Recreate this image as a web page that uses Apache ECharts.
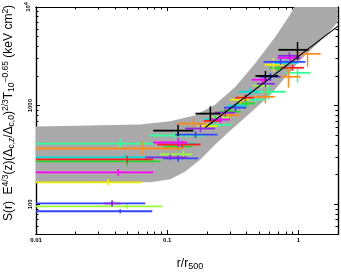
<!DOCTYPE html>
<html><head><meta charset="utf-8">
<script src="https://cdn.jsdelivr.net/npm/echarts@6/dist/echarts.min.js"></script>
<style>html,body{margin:0;padding:0;background:#fff}#c{width:341px;height:273px}</style>
</head><body><div id="c"></div>
<script>
// ---- axis ticks ----
const xMajor = [0.01, 0.1, 1];
const xMinor = [0.02,0.03,0.04,0.05,0.06,0.07,0.08,0.09,0.2,0.3,0.4,0.5,0.6,0.7,0.8,0.9,2];
const yMajor = [100, 1000, 10000];
const yMinor = [50,60,70,80,90,200,300,400,500,600,700,800,900,2000,3000,4000,5000,6000,7000,8000,9000];

// ---- scatter band (upper and lower envelopes) ----
const bandUpperX = [0.01, 0.0622, 0.1055, 0.164, 0.232, 0.331, 0.470, 0.667, 0.869, 0.93, 1.99];
const bandUpperY = [614, 643, 695, 800, 1030, 1550, 2700, 5000, 8500, 10000, 10000];
const bandLowerX = [0.01, 0.0741, 0.1055, 0.137, 0.179, 0.232, 0.303, 0.430, 0.611, 1.036, 1.607, 1.99];
const bandLowerY = [167, 167, 179, 215, 285, 404, 559, 849, 1291, 2917, 5093, 7050];

// ---- power-law fit ----
const fitX = [0.195, 2.0];
const fitY = [600, 6400];

// ---- profiles: [r, S, rLo, rHi, SLo, SHi] ----
const blackPts = [[0.121,559,0.0782,0.158,490,640],[0.213,830,0.164,0.254,700,985],[0.56,2000,0.47,0.70,1800,2250],[0.983,3681,0.704,1.19,2917,4426]];
const orangePts = [[0.0644,368,0.01,0.130,316,430],[0.158,658,0.119,0.20,580,745],[0.56,1230,0.46,0.66,1050,1450],[0.839,1963,0.667,1.036,1521,2421],[1.172,3350,0.983,1.472,2477,3855],[0.30,800,0.25,0.36,740,870]];
const springPts = [[0.0438,413,0.01,0.0782,370,460],[0.115,498,0.0741,0.195,450,550],[0.47,1150,0.40,0.56,1020,1300],[0.59,1384,0.45,0.80,1150,1650],[0.983,2153,0.796,1.235,1706,2477],[0.25,640,0.20,0.31,600,690]];
const greenPts = [[0.0495,272,0.01,0.0885,245,300],[0.121,386,0.093,0.155,350,425],[0.303,869,0.25,0.36,790,950],[0.40,1050,0.34,0.47,960,1150],[0.70,2400,0.60,0.82,2250,2560]];
const limePts = [[0.0495,95.5,0.01,0.0916,90,101],[0.1325,320,0.0885,0.155,290,350],[0.26,760,0.22,0.30,700,830],[0.52,1600,0.45,0.60,1500,1720]];
const cyanPts = [[0.0478,299,0.01,0.0885,270,330],[0.126,413,0.093,0.169,380,450],[0.232,722,0.19,0.28,660,790],[0.43,1384,0.35,0.50,1280,1500],[0.824,2716,0.65,1.0,2450,3000],[0.34,1000,0.29,0.40,940,1070]];
const redPts = [[0.0495,285,0.01,0.0782,260,310],[0.130,404,0.0839,0.179,370,440],[0.394,1205,0.33,0.46,1110,1300],[0.900,2421,0.73,1.10,2250,2600],[0.22,700,0.19,0.26,660,745]];
const magentaPts = [[0.0423,211,0.01,0.0782,195,228],[0.121,423,0.0782,0.142,380,470],[0.254,722,0.21,0.30,660,790],[0.531,1832,0.44,0.62,1680,2000],[0.869,3055,0.692,1.036,2800,3330]];
const yellowPts = [[0.0355,167,0.01,0.0644,155,180],[0.360,1150,0.30,0.42,1050,1260],[0.645,2594,0.55,0.76,2200,3050],[0.20,620,0.17,0.24,585,660]];
const purplePts = [[0.038,102,0.033,0.044,95,110],[0.1055,299,0.0679,0.142,280,320],[0.179,586,0.137,0.232,540,640],[0.277,849,0.23,0.33,780,920],[0.560,1667,0.48,0.66,1550,1800],[0.85,3200,0.7,1.0,2950,3450]];
const bluePts = [[0.038,102,0.01,0.0679,97,108],[0.0438,85,0.01,0.0768,81,89],[0.121,292,0.093,0.172,270,315],[0.164,509,0.115,0.241,470,550],[0.331,955,0.27,0.40,880,1040],[0.611,1963,0.50,0.73,1800,2150],[0.729,2780,0.541,1.130,2600,2980]];

const groups = [
  ['spring', springPts, '#33ff99'],
  ['green', greenPts, '#22dd22'],
  ['lime', limePts, '#99ff33'],
  ['yellow', yellowPts, '#eeee00'],
  ['cyan', cyanPts, '#00dddd'],
  ['red', redPts, '#ff2020'],
  ['magenta', magentaPts, '#ff00ff'],
  ['orange', orangePts, '#ff8c1a'],
  ['blue', bluePts, '#3344ff'],
  ['purple', purplePts, '#8a2be2'],
  ['black', blackPts, '#000000']
];

const chart = echarts.init(document.getElementById('c'), null, {renderer:'canvas'});
const FONT = 'Liberation Sans';

function logFmt(v){ const l = Math.log10(v); return Math.abs(l - Math.round(l)) < 1e-6; }

function xAxisCfg(pos, ticks, len, lab) {
  return {type:'log', logBase:10, min:0.01, max:2, position:pos, gridIndex:0,
    axisLine:{show:true, onZero:false, lineStyle:{color:'#000', width:1.2}},
    axisTick:{show:true, inside:true, length:len, customValues:ticks, lineStyle:{color:'#000', width:1}},
    minorTick:{show:false}, splitLine:{show:false},
    axisLabel:{show:lab, customValues:xMajor, margin:3, color:'#000', fontFamily:FONT, fontWeight:'bold', fontSize:6,
      formatter:function(v){ return logFmt(v) ? String(+v.toPrecision(3)) : ''; }}};
}
function yAxisCfg(pos, ticks, len, lab) {
  return {type:'log', logBase:10, min:50, max:10000, position:pos, gridIndex:0,
    axisLine:{show:true, onZero:false, lineStyle:{color:'#000', width:1.2}},
    axisTick:{show:true, inside:true, length:len, customValues:ticks, lineStyle:{color:'#000', width:1}},
    minorTick:{show:false}, splitLine:{show:false},
    axisLabel:{show:lab, customValues:yMajor, rotate:90, margin:3, color:'#000', fontFamily:FONT, fontWeight:'bold', fontSize:6,
      formatter:function(v){ if(Math.abs(v-10000)<1e-6) return '{a|10}{s|4}'; return logFmt(v) ? String(Math.round(v)) : ''; },
      rich:{a:{fontFamily:FONT, fontWeight:'bold', fontSize:6}, s:{fontFamily:FONT, fontWeight:'bold', fontSize:5, padding:[0,0,4,0]}}}};
}

function renderBand(params, api) {
  if (params.dataIndex !== 0) return;
  const pts = [];
  for (let i = 0; i < bandUpperX.length; i++) pts.push(api.coord([bandUpperX[i], bandUpperY[i]]));
  for (let i = bandLowerX.length - 1; i >= 0; i--) pts.push(api.coord([bandLowerX[i], bandLowerY[i]]));
  return {type:'polygon', shape:{points:pts}, style:{fill:'#aaaaaa', stroke:null}};
}

function renderErr(params, api) {
  const x=api.value(0), y=api.value(1), xlo=api.value(2), xhi=api.value(3), ylo=api.value(4), yhi=api.value(5);
  const pl = api.coord([xlo,y]), pr = api.coord([xhi,y]), pb = api.coord([x,ylo]), pt = api.coord([x,yhi]);
  const c = api.visual('color');
  return {type:'group', children:[
    {type:'line', shape:{x1:pl[0],y1:pl[1],x2:pr[0],y2:pr[1]}, style:{stroke:c, lineWidth:1.8}},
    {type:'line', shape:{x1:pb[0],y1:pb[1],x2:pt[0],y2:pt[1]}, style:{stroke:c, lineWidth:1.5}}
  ]};
}

const series = [
  {type:'custom', name:'band', renderItem:renderBand, data:[[0.1, 500]], z:1, silent:true,
   encode:{x:0, y:1}}
];
groups.forEach(function(g){
  series.push({type:'custom', name:g[0], renderItem:renderErr, data:g[1], z:3,
    itemStyle:{color:g[2]}, dimensions:['r','S','rlo','rhi','slo','shi'], encode:{x:[0,2,3], y:[1,4,5]}});
});
series.push({type:'line', name:'fit', data:fitX.map(function(x,i){return [x, fitY[i]];}),
  symbol:'none', z:5, lineStyle:{color:'#000', width:1.2}, silent:true});

const yTitle = '{n|S(r)  E}{sup|4/3}{n|(z)(Δ}{sub|c,z}{n|/Δ}{sub|c,0}{n|)}{sup|2/3}{n|T}{sub|10}{sup|−0.65}{n| (keV cm}{sup|2}{n|)}';
const richT = {
  n:{fontFamily:FONT, fontSize:12, fill:'#000', color:'#000'},
  sup:{fontFamily:FONT, fontSize:8.5, padding:[0,0,7,0], fill:'#000', color:'#000'},
  sub:{fontFamily:FONT, fontSize:8.5, padding:[6,0,0,0], fill:'#000', color:'#000'}
};

chart.setOption({
  animation:false,
  backgroundColor:'#fff',
  grid:{left:36, right:3, top:7, bottom:39, containLabel:false, outerBoundsMode:'none'},
  xAxis:[xAxisCfg('bottom', xMajor, 4, true), xAxisCfg('bottom', xMinor, 2.5, false),
         xAxisCfg('top', xMajor, 4, false), xAxisCfg('top', xMinor, 2.5, false)],
  yAxis:[yAxisCfg('left', yMajor, 4, true), yAxisCfg('left', yMinor, 2.5, false),
         yAxisCfg('right', yMajor, 4, false), yAxisCfg('right', yMinor, 2.5, false)],
  series:series,
  graphic:[
    {type:'text', x:9, y:113, rotation:Math.PI/2, z:10,
     style:{text:yTitle, rich:richT, align:'center', verticalAlign:'middle', textAlign:'center', textVerticalAlign:'middle', fill:'#000'}},
    {type:'text', x:190, y:264, z:10,
     style:{text:'{n|r/r}{sub|500}', rich:{n:{fontFamily:FONT, fontSize:12, fill:'#000'}, sub:{fontFamily:FONT, fontSize:9, padding:[6,0,0,0], fill:'#000'}},
       align:'center', verticalAlign:'middle', textAlign:'center', textVerticalAlign:'middle', fill:'#000'}}
  ]
});
</script></body></html>
